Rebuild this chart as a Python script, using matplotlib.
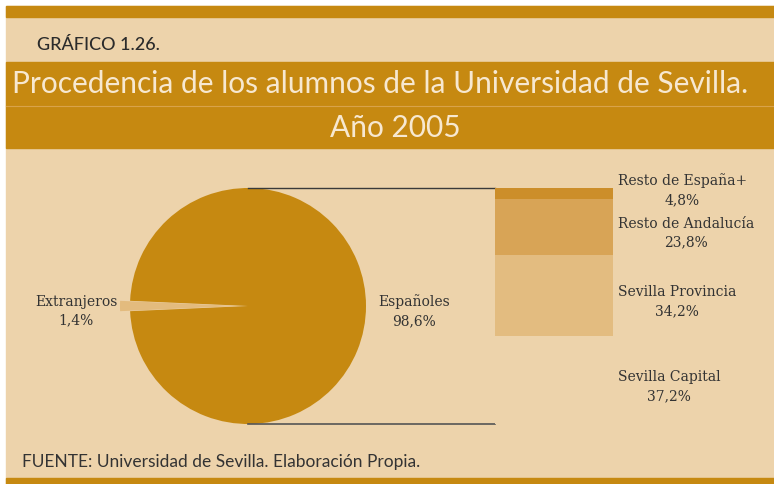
import matplotlib.pyplot as plt
from matplotlib.patches import Rectangle
import numpy as np

# pie data
pie_labels = ['Españoles', 'Extranjeros']
pie_values = [98.6, 1.4]

# breakdown of Españoles (bottom to top)
bar_labels = ['Sevilla Capital', 'Sevilla Provincia', 'Resto de Andalucía', 'Resto de España+']
bar_values = [37.2, 34.2, 23.8, 4.8]

bg = '#EDD3AB'
dark = '#C68911'
bar_colors = [bg, '#E3BC80', '#D8A456', '#CC8E2A']
txt = '#333333'

W, H = 774, 484
fig = plt.figure(figsize=(W / 100, H / 100), dpi=100)
fig.patch.set_facecolor('white')

# main axes in pixel units
ax = fig.add_axes([0, 0, 1, 1])

# pie: centre and radius in pixels
cx, cy, r = 248, 306, 118
ax.pie(pie_values, colors=[dark, '#E3BB7E'], explode=[0, 10],
       startangle=-180 + pie_values[1] / 100 * 180, counterclock=True,
       center=(cx, cy), radius=r, wedgeprops=dict(linewidth=0))

# panel background and bands
ax.add_patch(Rectangle((6, 6), W - 6, H - 6, color=bg, zorder=-5))
ax.add_patch(Rectangle((6, 6), W - 6, 11, color=dark, zorder=-4))
ax.add_patch(Rectangle((6, 62), W - 6, 86, color=dark, zorder=-4))
ax.add_patch(Rectangle((6, 478), W - 6, 6, color=dark, zorder=-4))
ax.plot([6, W], [106, 106], color='#D9A34A', lw=0.8, zorder=-3)

# connector lines
bx0, bx1 = 495, 613
ax.plot([cx, bx0], [cy - r, cy - r], color='#3a3a3a', lw=1)
ax.plot([cx, bx0], [cy + r, cy + r], color='#555555', lw=1.2)

ax.set_xlim(0, W)
ax.set_ylim(H, 0)
ax.set_aspect('equal')
ax.axis('off')

# texts
title_col = '#F7E8D0'
ax.text(37, 45, 'GRÁFICO 1.26.', fontsize=13, family='Lato', weight='medium',
        color='#2b2b2b', va='center')
ax.text(12, 84, 'Procedencia de los alumnos de la Universidad de Sevilla.',
        fontsize=21.5, family='Lato', weight='normal', color=title_col, va='center')
ax.text(395, 128, 'Año 2005', fontsize=21.5, family='Lato', weight='normal',
        color=title_col, va='center', ha='center')
ax.text(22, 462, 'FUENTE: Universidad de Sevilla. Elaboración Propia.',
        fontsize=12.5, family='Lato', weight='normal', color=txt, va='center')

serif = 'DejaVu Serif'
ax.text(76, 311, f'{pie_labels[1]}\n{pie_values[1]:.1f}%'.replace('.', ','),
        fontsize=10, family=serif, color=txt, ha='center', va='center',
        multialignment='center', linespacing=1.45)
ax.text(414, 311, f'{pie_labels[0]}\n{pie_values[0]:.1f}%'.replace('.', ','),
        fontsize=10, family=serif, color=txt, ha='center', va='center',
        multialignment='center', linespacing=1.45)

# stacked bar axes
bax = fig.add_axes([bx0 / W, 1 - (cy + r) / H, (bx1 - bx0) / W, 2 * r / H])
bottom = 0
label_offsets = [2.7, 2.4, 2.5, -1.6]
for lab, val, col, off in zip(bar_labels, bar_values, bar_colors, label_offsets):
    bax.bar(0, val, bottom=bottom, width=1, color=col, linewidth=0)
    ymid = bottom + val / 2
    bax.text(1.042, ymid - off, f'{lab}\n{val:.1f}%'.replace('.', ','),
             transform=bax.get_yaxis_transform(), fontsize=10, family=serif,
             color=txt, ha='left', va='center', multialignment='center',
             linespacing=1.45, clip_on=False)
    bottom += val
bax.set_xlim(-0.5, 0.5)
bax.set_ylim(0, 100)
bax.axis('off')

fig.savefig('out.png', dpi=100, facecolor=fig.get_facecolor())
